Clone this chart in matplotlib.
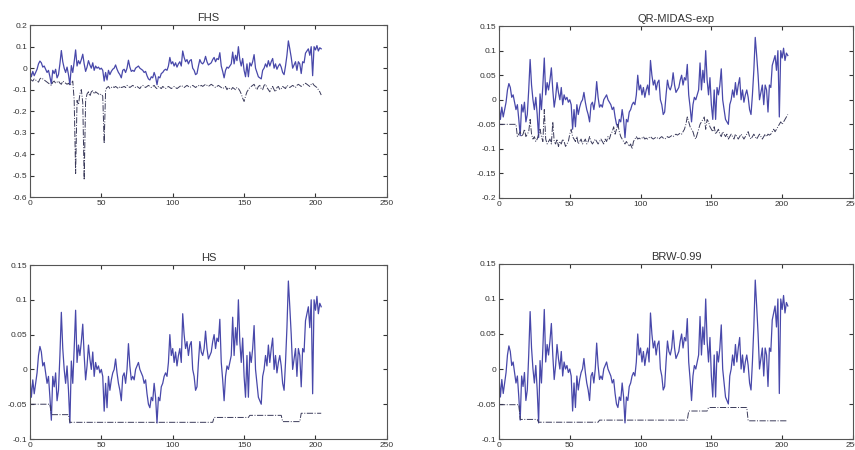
import matplotlib
matplotlib.use("Agg")
import matplotlib.pyplot as plt
from matplotlib.ticker import FuncFormatter, MultipleLocator

plt.rcParams['font.family'] = ['Liberation Sans', 'DejaVu Sans']

# realised returns (same series in every panel), t = 0..204
returns = [
    -0.01, -0.04, -0.015, -0.035, -0.02, -0.005, 0.02, 0.033, 0.025, 0.005,
    0.01, -0.005, -0.02, -0.01, -0.04, -0.073, -0.01, -0.025, -0.005, -0.045,
    -0.03, 0.02, 0.082, 0.03, 0.0, -0.02, 0.005, -0.03, -0.077, 0.012,
    -0.02, 0.03, 0.085, 0.01, 0.035, 0.02, 0.04, 0.065, 0.02, -0.015,
    0.005, 0.035, 0.015, 0.0, 0.025, -0.01, 0.01, 0.0, 0.005, -0.005,
    0.0, -0.01, -0.06, -0.02, -0.055, -0.01, -0.03, -0.015, -0.005, 0.0,
    0.015, -0.005, -0.02, -0.03, -0.045, -0.01, -0.005, -0.02, 0.0, 0.037,
    0.005, -0.015, -0.01, -0.015, 0.0, 0.005, 0.01, 0.0, -0.005, -0.01,
    -0.02, -0.015, -0.035, -0.05, -0.055, -0.04, -0.045, -0.02, -0.04, -0.077,
    -0.04, -0.045, -0.025, -0.02, -0.01, -0.005, -0.01, 0.01, 0.05, 0.02,
    0.03, 0.01, 0.025, 0.005, 0.02, 0.03, 0.01, 0.08, 0.05, 0.03,
    0.04, 0.02, 0.035, 0.04, 0.0, -0.01, -0.03, -0.025, 0.01, 0.04,
    0.025, 0.02, 0.03, 0.055, 0.03, 0.015, 0.02, 0.025, 0.04, 0.05,
    0.03, 0.045, 0.04, 0.072, 0.01, -0.015, -0.045, -0.01, 0.005, 0.0,
    0.01, 0.02, 0.075, 0.02, 0.06, 0.035, 0.1, 0.04, 0.01, 0.045,
    -0.01, -0.04, 0.02, -0.04, 0.025, 0.01, 0.03, 0.063, 0.0, -0.02,
    -0.04, -0.045, -0.05, -0.01, 0.0, 0.02, 0.005, 0.035, 0.01, 0.03,
    0.045, 0.0, 0.02, -0.005, 0.01, 0.02, 0.005, -0.02, -0.03, 0.01,
    0.06, 0.127, 0.09, 0.05, 0.0, 0.015, 0.03, -0.01, 0.03, 0.02,
    -0.025, 0.03, 0.025, 0.07, 0.08, 0.09, 0.06, 0.1, -0.035, 0.1,
    0.085, 0.105, 0.08, 0.095, 0.09,
]

var_fhs = [
    -0.05, -0.055, -0.06, -0.05, -0.055, -0.06, -0.065, -0.05, -0.045, -0.05,
    -0.055, -0.06, -0.065, -0.07, -0.075, -0.08, -0.065, -0.06, -0.07, -0.065,
    -0.06, -0.07, -0.075, -0.06, -0.065, -0.07, -0.075, -0.07, -0.08, -0.07,
    -0.06, -0.15, -0.49, -0.15, -0.17, -0.12, -0.1, -0.16, -0.52, -0.15,
    -0.12, -0.11, -0.13, -0.11, -0.105, -0.12, -0.11, -0.115, -0.12, -0.125,
    -0.12, -0.13, -0.35, -0.1, -0.09, -0.085, -0.095, -0.09, -0.085, -0.09,
    -0.085, -0.09, -0.095, -0.085, -0.09, -0.088, -0.085, -0.09, -0.08, -0.085,
    -0.09, -0.085, -0.08, -0.085, -0.09, -0.085, -0.09, -0.095, -0.085, -0.08,
    -0.085, -0.09, -0.085, -0.08, -0.085, -0.09, -0.085, -0.08, -0.09, -0.095,
    -0.085, -0.09, -0.095, -0.085, -0.09, -0.095, -0.09, -0.085, -0.09, -0.095,
    -0.09, -0.085, -0.09, -0.095, -0.09, -0.085, -0.08, -0.085, -0.09, -0.085,
    -0.08, -0.085, -0.09, -0.085, -0.08, -0.085, -0.09, -0.085, -0.08, -0.085,
    -0.08, -0.085, -0.08, -0.075, -0.08, -0.085, -0.08, -0.075, -0.08, -0.085,
    -0.09, -0.085, -0.08, -0.085, -0.09, -0.095, -0.09, -0.085, -0.1, -0.09,
    -0.095, -0.1, -0.09, -0.095, -0.1, -0.09, -0.095, -0.105, -0.12, -0.14,
    -0.155, -0.13, -0.11, -0.1, -0.09, -0.085, -0.08, -0.075, -0.09, -0.1,
    -0.085, -0.08, -0.095, -0.1, -0.08, -0.075, -0.09, -0.1, -0.11, -0.095,
    -0.085, -0.1, -0.11, -0.09, -0.085, -0.1, -0.095, -0.085, -0.09, -0.095,
    -0.08, -0.085, -0.09, -0.085, -0.08, -0.085, -0.09, -0.08, -0.075, -0.08,
    -0.085, -0.08, -0.075, -0.07, -0.075, -0.08, -0.085, -0.075, -0.07, -0.08,
    -0.085, -0.09, -0.1, -0.11, -0.125,
]

var_qr = [
    -0.05, -0.05, -0.05, -0.05, -0.05, -0.05, -0.05, -0.05, -0.05, -0.05,
    -0.05, -0.05, -0.05, -0.075, -0.07, -0.065, -0.075, -0.07, -0.06, -0.075,
    -0.07, -0.065, -0.04, -0.07, -0.08, -0.075, -0.085, -0.08, -0.07, -0.06,
    -0.075, -0.085, -0.02, -0.08, -0.09, -0.085, -0.08, -0.09, -0.045, -0.085,
    -0.09, -0.08, -0.095, -0.085, -0.09, -0.08, -0.085, -0.095, -0.09, -0.085,
    -0.07, -0.06, -0.075, -0.08, -0.085, -0.075, -0.09, -0.085, -0.08, -0.09,
    -0.085, -0.08, -0.09, -0.085, -0.075, -0.085, -0.09, -0.085, -0.08, -0.085,
    -0.09, -0.085, -0.08, -0.085, -0.09, -0.08, -0.085, -0.075, -0.08, -0.07,
    -0.065, -0.055, -0.07, -0.06, -0.05, -0.065, -0.075, -0.08, -0.085, -0.09,
    -0.085, -0.09, -0.095, -0.09, -0.1, -0.085, -0.08, -0.075, -0.08, -0.078,
    -0.08, -0.078, -0.075, -0.08, -0.078, -0.08, -0.077, -0.075, -0.078, -0.08,
    -0.078, -0.076, -0.078, -0.08, -0.077, -0.075, -0.078, -0.08, -0.078, -0.075,
    -0.077, -0.075, -0.073, -0.075, -0.072, -0.07, -0.072, -0.07, -0.068, -0.07,
    -0.065, -0.06, -0.05, -0.035, -0.045, -0.055, -0.06, -0.065, -0.075, -0.08,
    -0.07, -0.06, -0.05, -0.045, -0.04, -0.035, -0.06, -0.04, -0.045, -0.055,
    -0.06, -0.065, -0.055, -0.07, -0.065, -0.06, -0.07, -0.075, -0.065, -0.07,
    -0.075, -0.07, -0.08, -0.075, -0.07, -0.075, -0.08, -0.07, -0.075, -0.08,
    -0.075, -0.07, -0.075, -0.08, -0.075, -0.07, -0.065, -0.075, -0.08, -0.075,
    -0.07, -0.075, -0.08, -0.075, -0.07, -0.075, -0.08, -0.075, -0.07, -0.075,
    -0.07, -0.072, -0.07, -0.065, -0.06, -0.065, -0.06, -0.055, -0.05, -0.045,
    -0.05, -0.045, -0.04, -0.035, -0.03,
]

# piecewise constant VaR: (start, end, level)
hs_steps = [(0, 14, -0.05), (15, 27, -0.065), (28, 128, -0.076),
            (129, 153, -0.069), (154, 176, -0.066), (177, 189, -0.075),
            (190, 204, -0.063)]
brw_steps = [(0, 14, -0.051), (15, 27, -0.072), (28, 70, -0.076),
             (71, 133, -0.073), (134, 147, -0.06), (148, 175, -0.055),
             (176, 203, -0.074)]


def expand(steps):
    out = []
    for a, b, v in steps:
        out += [v] * (b - a + 1)
    return out


var_hs = expand(hs_steps)
var_brw = expand(brw_steps)

panels = [
    ("FHS", var_fhs, (-0.6, 0.2), 0.1, [0.035, 0.562, 0.4175, 0.382]),
    ("QR-MIDAS-exp", var_qr, (-0.2, 0.15), 0.05, [0.5836, 0.56, 0.414, 0.382]),
    ("HS", var_hs, (-0.1, 0.15), 0.05, [0.035, 0.0244, 0.4175, 0.3867]),
    ("BRW-0.99", var_brw, (-0.1, 0.15), 0.05, [0.5836, 0.0244, 0.414, 0.389]),
]


def fmt(v, _):
    v = round(v, 4)
    if abs(v) < 1e-9:
        return "0"
    return f"{v:g}"


fig = plt.figure(figsize=(8.55, 4.5), dpi=100)
for title, var, ylim, ystep, pos in panels:
    ax = fig.add_axes(pos)
    ax.plot(range(len(returns)), returns, color='#4848aa', lw=0.9)
    ax.plot(range(len(var)), var, color='#3a3a5a', lw=0.7, ls='-.')
    ax.set_xlim(0, 250)
    ax.set_ylim(*ylim)
    ax.xaxis.set_major_locator(MultipleLocator(50))
    ax.yaxis.set_major_locator(MultipleLocator(ystep))
    ax.yaxis.set_major_formatter(FuncFormatter(fmt))
    ax.tick_params(direction='in', top=True, right=True, length=3,
                   labelsize=6, colors='#333333', pad=2)
    for s in ax.spines.values():
        s.set_color('#555555')
        s.set_linewidth(0.8)
    ax.set_title(title, fontsize=8, color='#333333', pad=3)

fig.savefig("out.png", dpi=100)
